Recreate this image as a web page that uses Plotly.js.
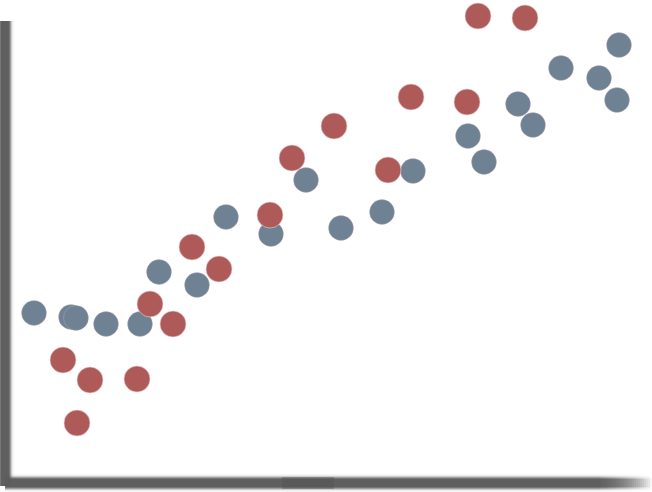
<!DOCTYPE html>
<html>
<head>
<meta charset="utf-8">
<script src="https://cdn.plot.ly/plotly-3.0.1.min.js"></script>
<style>html,body{margin:0;padding:0;background:#fff;}#chart{width:652px;height:492px;}</style>
</head>
<body>
<div id="chart"></div>
<script>
var redX = [478, 525, 411, 467, 334, 292, 388, 270, 192, 219, 150, 173, 63, 90, 137, 77];
var redY = [476, 474, 395, 390, 366, 334, 322, 277, 245, 223, 188, 168, 132, 112, 113, 69];
var blueX = [34, 71, 76, 106, 140, 159, 197, 226, 271, 306, 341, 382, 413, 468, 484, 518, 533, 561, 599, 619, 617];
var blueY = [179, 175, 174, 168, 168, 220, 207, 275, 258, 312, 264, 280, 321, 356, 330, 388, 367, 424, 414, 447, 392];

var redColor = '#ad5a59';
var blueColor = '#6e8294';

var traces = [
  {x: blueX, y: blueY, mode: 'markers', type: 'scatter',
   marker: {size: 25, color: blueColor, line: {width: 1, color: 'rgba(215,185,200,0.3)'}}},
  {x: redX, y: redY, mode: 'markers', type: 'scatter',
   marker: {size: 26, color: redColor, line: {width: 1, color: 'rgba(240,210,215,0.6)'}}}
];

var layers = [[17, 0.10], [14, 0.22], [12, 0.4], [10, 0.6], [8, 0.85]];
function blurLine(x0, y0, x1, y1, fade) {
  return layers.map(function (l) {
    return {type: 'line', xref: 'x', yref: 'y', x0: x0, y0: y0, x1: x1, y1: y1,
            layer: 'below', line: {color: 'rgb(92,92,92)', width: l[0]}, opacity: l[1] * (fade || 1)};
  });
}

var shapes = [];
shapes = shapes.concat(blurLine(5, 471, 5, 6));
shapes = shapes.concat(blurLine(5, 9, 600, 9));
// fading right end of the bottom axis
var steps = 26;
for (var i = 0; i < steps; i++) {
  var f = 1 - (i + 0.5) / steps;
  shapes = shapes.concat(blurLine(600 + i * 2, 9, 602 + i * 2, 9, f * 0.95));
}
// darker patch on the bottom axis
shapes.push({type: 'rect', xref: 'x', yref: 'y', x0: 282, y0: 3, x1: 334, y1: 15, layer: 'below',
  line: {width: 0}, fillcolor: 'rgb(80,80,80)', opacity: 0.35});

var layout = {
  width: 652, height: 492,
  margin: {l: 0, r: 0, t: 0, b: 0},
  paper_bgcolor: '#ffffff', plot_bgcolor: '#ffffff',
  showlegend: false,
  xaxis: {range: [0, 652], visible: false, fixedrange: true},
  yaxis: {range: [0, 492], visible: false, fixedrange: true},
  shapes: shapes
};

Plotly.newPlot('chart', traces, layout, {displayModeBar: false, staticPlot: true});
</script>
</body>
</html>
